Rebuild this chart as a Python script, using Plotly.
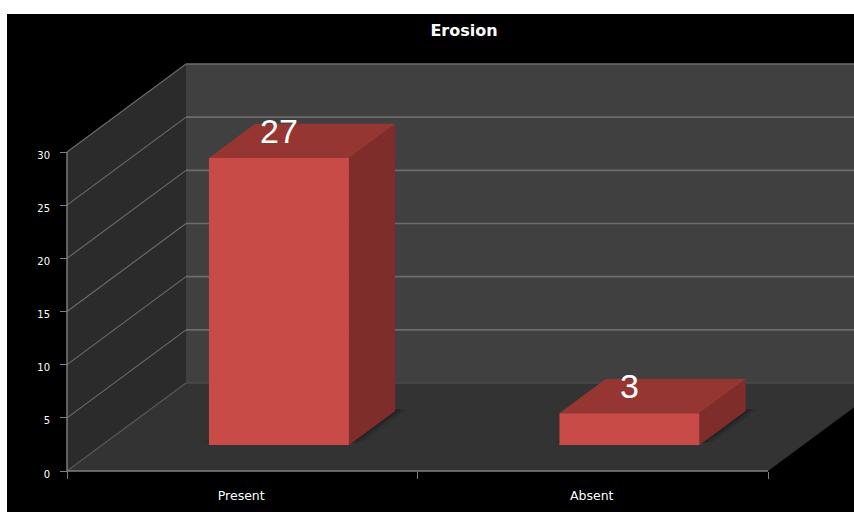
import plotly.graph_objects as go

# ---- data ----
categories = ["Present", "Absent"]
values = [27, 3]
y_ticks = [0, 5, 10, 15, 20, 25, 30]
x_edges = [0, 1, 2]
title_text = "Erosion"

# ---- page layout in pixels ----
W, H = 854, 512
PLOT_L, PLOT_T = 7, 14          # white strip at the top and left of the screenshot
AX_L, AX_R = 67, 768            # pixel span of x = 0..2
AX_TOP, AX_BOT = 152, 471       # pixel span of y = 0..30

# ---- oblique 3D look, expressed in axis units ----
X_MAX, Y_MAX = 2, 30
PX_X = (AX_R - AX_L) / X_MAX
PX_Y = (AX_BOT - AX_TOP) / Y_MAX
DEPTH_X = 119 / PX_X   # x-axis units moved per full depth
DEPTH_Y = 88 / PX_Y    # y-axis units moved per full depth
D0, D1 = 0.295, 0.683  # bar depth extents
BAR_W = 0.3994
BAR_OFFSET = 0.0045

FRONT, TOP, SIDE = "#C84B48", "#963633", "#7E2D2B"
BACK_WALL, SIDE_WALL, FLOOR = "#404040", "#2B2B2B", "#333333"
GRID, AXIS = "#6C6C6C", "#808080"


def proj(x, y, d):
    return x + DEPTH_X * d, y + DEPTH_Y * d


def poly(pts, color, name=""):
    xs = [p[0] for p in pts] + [pts[0][0]]
    ys = [p[1] for p in pts] + [pts[0][1]]
    return go.Scatter(x=xs, y=ys, mode="lines", fill="toself", fillcolor=color,
                      line=dict(width=0), hoverinfo="skip", name=name)


def seg(a, b, color, width=1.2):
    return go.Scatter(x=[a[0], b[0]], y=[a[1], b[1]], mode="lines",
                      line=dict(color=color, width=width), hoverinfo="skip")


fig = go.Figure()
FAR = 3.0
# walls and floor
fig.add_trace(poly([proj(0, 0, 1), proj(FAR, 0, 1), proj(FAR, Y_MAX, 1), proj(0, Y_MAX, 1)], BACK_WALL))
fig.add_trace(poly([proj(0, 0, 0), proj(0, 0, 1), proj(0, Y_MAX, 1), proj(0, Y_MAX, 0)], SIDE_WALL))
fig.add_trace(poly([proj(0, 0, 0), proj(X_MAX, 0, 0), proj(X_MAX, 0, 1), proj(0, 0, 1)], FLOOR))

# gridlines
for t in y_ticks:
    col = "#4A4A4A" if t == 0 else GRID
    fig.add_trace(seg(proj(0, t, 1), proj(FAR, t, 1), col, 1.6))
    fig.add_trace(seg(proj(0, t, 0), proj(0, t, 1), GRID if t else "#5A5A5A", 1.1))

# axis lines
fig.add_trace(seg((0, 0), (X_MAX, 0), AXIS, 1.4))
fig.add_trace(seg((0, 0), (0, Y_MAX), AXIS, 1.4))

# bars
annotations = []
for i, (cat, v) in enumerate(zip(categories, values)):
    cx = i + 0.5 + BAR_OFFSET
    xl, xr = cx - BAR_W / 2, cx + BAR_W / 2
    # soft shadow on the floor
    for grow, alpha in [(0.03, 0.05), (0.02, 0.10), (0.01, 0.15)]:
        fig.add_trace(poly([proj(xl - grow, 0, D0 + 0.03), proj(xr + grow, 0, D0 + 0.03),
                            proj(xr + grow, 0, D1 + 0.02), proj(xl - grow, 0, D1 + 0.02)],
                           f"rgba(0,0,0,{alpha})"))
    fig.add_trace(poly([proj(xr, 0, D0), proj(xr, 0, D1), proj(xr, v, D1), proj(xr, v, D0)], SIDE, cat))
    fig.add_trace(poly([proj(xl, v, D0), proj(xr, v, D0), proj(xr, v, D1), proj(xl, v, D1)], TOP, cat))
    fig.add_trace(poly([proj(xl, 0, D0), proj(xr, 0, D0), proj(xr, v, D0), proj(xl, v, D0)], FRONT, cat))
    lx, ly = proj(cx, v, D0)
    annotations.append(dict(x=lx, y=ly, xref="x", yref="y", text=str(v), showarrow=False,
                            yshift=27, xanchor="center", yanchor="middle",
                            font=dict(family="Liberation Sans", size=34, color="white")))

plot_w, plot_h = W - PLOT_L, H - PLOT_T
fig.update_layout(
    width=W, height=H, autosize=False,
    margin=dict(l=PLOT_L, r=0, t=PLOT_T, b=0, pad=0),
    paper_bgcolor="white", plot_bgcolor="black",
    showlegend=False,
    title=dict(text=f"<b>{title_text}</b>", x=464 / W, xref="container", xanchor="center",
               y=1 - 30 / H, yref="container", yanchor="middle",
               font=dict(family="DejaVu Sans", size=16, color="white")),
    xaxis=dict(range=[(PLOT_L - AX_L) / PX_X, (W - AX_L) / PX_X],
               anchor="free", position=(H - AX_BOT) / plot_h, automargin=False,
               tickmode="array", tickvals=[i + 0.5 for i in range(len(categories))],
               ticktext=categories, ticks="", ticklabelstandoff=15, ticklabelshift=-1,
               showgrid=False, zeroline=False, showline=False,
               tickfont=dict(family="DejaVu Sans", size=12.5, color="white"),
               minor=dict(tickmode="array", tickvals=x_edges, ticks="outside", ticklen=7,
                          tickcolor=AXIS, tickwidth=1, showgrid=False)),
    yaxis=dict(range=[(AX_BOT - H) / PX_Y, (AX_BOT - PLOT_T) / PX_Y],
               anchor="free", position=(AX_L - PLOT_L) / plot_w, automargin=False,
               tickmode="array", tickvals=y_ticks,
               ticks="outside", ticklen=7, tickcolor=AXIS, tickwidth=1,
               ticklabelstandoff=8, ticklabelshift=3, showgrid=False, zeroline=False, showline=False,
               tickfont=dict(family="DejaVu Sans", size=10, color="white")),
    annotations=annotations,
)

fig.write_html("out.html", config={"displayModeBar": False},
               post_script="document.body.style.margin='0';")
